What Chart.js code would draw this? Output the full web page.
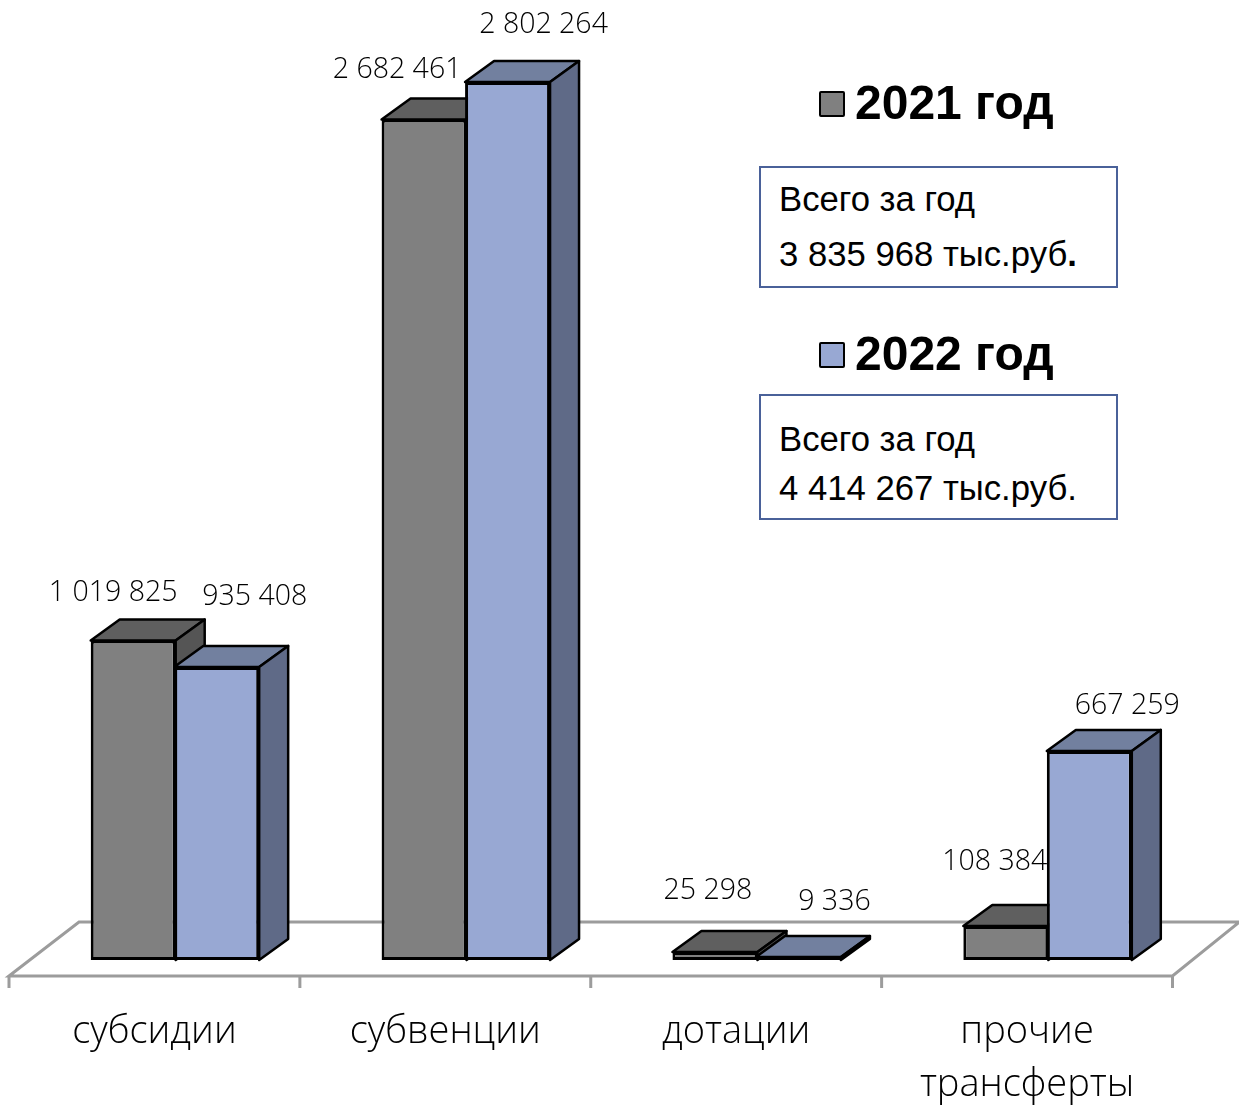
<!DOCTYPE html>
<html lang="ru">
<head>
<meta charset="utf-8">
<title>Трансферты</title>
<script src="https://cdn.jsdelivr.net/npm/chart.js@4"></script>
<style>
  html, body { margin: 0; padding: 0; background: #fff; }
  #wrap { position: relative; width: 1239px; height: 1105px; overflow: hidden; font-family: "Liberation Sans", Arial, sans-serif; color: #000; }
  canvas { position: absolute; left: 0; top: 0; }
  .key { position: absolute; left: 819px; font-size: 48px; font-weight: bold; line-height: 54px; white-space: nowrap; }
  .key i { position: absolute; left: 0; top: 15px; width: 22px; height: 22px; border: 2px solid #000; border-radius: 2px; }
  .key span { position: absolute; left: 36px; top: 0; }
  .box { position: absolute; left: 759px; width: 355px; border: 2px solid #4a6199; background: #fff; font-size: 34.7px; white-space: nowrap; }
  .box div { position: absolute; left: 18px; line-height: 38px; }
</style>
</head>
<body>
<div id="wrap">
  <canvas id="chart" width="1239" height="1105"></canvas>
  <div class="key" style="top:76px"><i style="background:#808080"></i><span>2021 год</span></div>
  <div class="box" style="top:166px;height:118px">
    <div style="top:12px">Всего за год</div>
    <div style="top:67px">3 835 968 тыс.руб<b>.</b></div>
  </div>
  <div class="key" style="top:327px"><i style="background:#98a8d3"></i><span>2022 год</span></div>
  <div class="box" style="top:394px;height:122px">
    <div style="top:24px">Всего за год</div>
    <div style="top:73px">4 414 267 тыс.руб.</div>
  </div>
</div>
<script>
const categories = ['субсидии', 'субвенции', 'дотации', ['прочие', 'трансферты']];
const values2021 = [1019825, 2682461, 25298, 108384];
const values2022 = [935408, 2802264, 9336, 667259];
const seriesNames = ['2021 год', '2022 год'];

// 3D look: depth of the bars and the floor around them
const depthX = 29, depthY = 21;
const faces = [
  { front: '#808080', top: '#5f5f5f', side: '#555555' },
  { front: '#98a8d3', top: '#72809f', side: '#5f6a87' }
];
// hand placed label offsets from the bar top centre, as in the original
const labelShift = [
  [[-20, -48], [-27, -50], [-7, -61], [-11, -64]],
  [[38, -70], [36, -57], [36, -55], [38, -45]]
];

function fmt(n) {
  return String(n).replace(/\B(?=(\d{3})+$)/g, ' ');
}

function poly(ctx, pts, fill) {
  ctx.beginPath();
  pts.forEach((p, i) => i ? ctx.lineTo(p[0], p[1]) : ctx.moveTo(p[0], p[1]));
  ctx.closePath();
  ctx.fillStyle = fill;
  ctx.fill();
  ctx.stroke();
}

const floorAndDepth = {
  id: 'floorAndDepth',
  beforeDatasetsDraw(chart) {
    const ctx = chart.ctx, x = chart.scales.x, base = chart.scales.y.getPixelForValue(0);
    const step = x.getPixelForTick(1) - x.getPixelForTick(0);
    const left = x.getPixelForTick(0) - step / 2 - 20.5;
    const right = left + step * categories.length;
    const front = base + 16, back = base - 38;

    // floor outline and axis ticks
    ctx.save();
    ctx.strokeStyle = '#9c9c9c';
    ctx.lineWidth = 3;
    ctx.beginPath();
    ctx.moveTo(left, front);
    ctx.lineTo(left + 70, back);
    ctx.lineTo(right + 67, back);
    ctx.lineTo(right, front);
    ctx.closePath();
    for (let i = 0; i <= categories.length; i++) {
      ctx.moveTo(left + step * i, front);
      ctx.lineTo(left + step * i, front + 12);
    }
    ctx.stroke();

    // top and side faces, the front face is the bar itself
    ctx.strokeStyle = '#000';
    ctx.lineWidth = 2.5;
    ctx.lineJoin = 'round';
    chart.data.datasets.forEach((ds, d) => {
      chart.getDatasetMeta(d).data.forEach(bar => {
        const l = bar.x - bar.width / 2, r = bar.x + bar.width / 2, t = bar.y, b = bar.base;
        poly(ctx, [[l, t], [l + depthX, t - depthY], [r + depthX, t - depthY], [r, t]], faces[d].top);
        poly(ctx, [[r, t], [r + depthX, t - depthY], [r + depthX, b - depthY], [r, b]], faces[d].side);
      });
    });
    ctx.restore();
  },
  afterDatasetsDraw(chart) {
    const ctx = chart.ctx;
    ctx.save();
    ctx.font = '300 28.5px "Open Sans", sans-serif';
    ctx.fillStyle = '#000';
    ctx.textAlign = 'center';
    ctx.textBaseline = 'middle';
    chart.data.datasets.forEach((ds, d) => {
      chart.getDatasetMeta(d).data.forEach((bar, i) => {
        const s = labelShift[d][i];
        ctx.fillText(fmt(ds.data[i]), bar.x + s[0], bar.y + s[1]);
      });
    });
    ctx.restore();
  }
};

new Chart(document.getElementById('chart').getContext('2d'), {
  type: 'bar',
  data: {
    labels: categories,
    datasets: [
      { label: seriesNames[0], data: values2021, backgroundColor: faces[0].front },
      { label: seriesNames[1], data: values2022, backgroundColor: faces[1].front }
    ]
  },
  options: {
    responsive: false,
    animation: false,
    layout: { padding: { top: 20, left: 29.5, right: 46, bottom: 0 } },
    // a little over 1 so the neighbouring bars share one border line
    datasets: { bar: { barPercentage: 1.018, categoryPercentage: 0.574, borderColor: '#000', borderWidth: 3, borderSkipped: false } },
    plugins: { legend: { display: false }, tooltip: { enabled: false } },
    scales: {
      y: { display: false, min: 0, max: 3000000 },
      x: {
        grid: { display: false },
        border: { display: false },
        afterFit(scale) { scale.height = 145; },
        ticks: {
          autoSkip: false,
          maxRotation: 0,
          minRotation: 0,
          padding: 38,
          labelOffset: -20.5,
          color: '#000',
          font: { family: '"Open Sans", sans-serif', size: 38, weight: '300', lineHeight: 1.39 }
        }
      }
    }
  },
  plugins: [floorAndDepth]
});
</script>
</body>
</html>
